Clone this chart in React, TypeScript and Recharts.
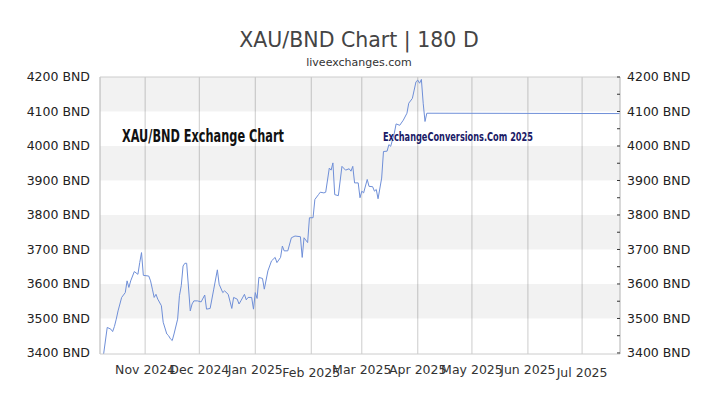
import {
  LineChart,
  Line,
  XAxis,
  YAxis,
  CartesianGrid,
  ReferenceArea,
  ReferenceLine,
} from 'recharts'

// reading of the XAU/BND rate, one point per sampled day
const DATES = [
  '2024-10-09', '2024-10-11', '2024-10-13', '2024-10-14', '2024-10-15', '2024-10-16',
  '2024-10-17', '2024-10-19', '2024-10-21', '2024-10-22', '2024-10-23', '2024-10-24',
  '2024-10-26', '2024-10-28', '2024-10-29', '2024-10-30', '2024-10-31', '2024-11-03',
  '2024-11-04', '2024-11-05', '2024-11-06', '2024-11-07', '2024-11-08', '2024-11-10',
  '2024-11-11', '2024-11-13', '2024-11-14', '2024-11-15', '2024-11-16', '2024-11-17',
  '2024-11-19', '2024-11-20', '2024-11-21', '2024-11-22', '2024-11-23', '2024-11-24',
  '2024-11-26', '2024-11-27', '2024-11-28', '2024-11-30', '2024-12-02', '2024-12-04',
  '2024-12-05', '2024-12-07', '2024-12-09', '2024-12-11', '2024-12-12', '2024-12-14',
  '2024-12-15', '2024-12-17', '2024-12-19', '2024-12-20', '2024-12-22', '2024-12-23',
  '2024-12-24', '2024-12-26', '2024-12-27', '2024-12-28', '2024-12-30', '2024-12-31',
  '2025-01-01', '2025-01-02', '2025-01-03', '2025-01-05', '2025-01-06', '2025-01-08',
  '2025-01-10', '2025-01-12', '2025-01-13', '2025-01-15', '2025-01-16', '2025-01-17',
  '2025-01-19', '2025-01-21', '2025-01-23', '2025-01-26', '2025-01-27', '2025-01-28',
  '2025-01-30', '2025-01-31', '2025-02-02', '2025-02-03', '2025-02-05', '2025-02-06',
  '2025-02-08', '2025-02-09', '2025-02-11', '2025-02-12', '2025-02-13', '2025-02-14',
  '2025-02-16', '2025-02-18', '2025-02-20', '2025-02-22', '2025-02-23', '2025-02-24',
  '2025-02-25', '2025-02-27', '2025-02-28', '2025-03-01', '2025-03-02', '2025-03-04',
  '2025-03-05', '2025-03-07', '2025-03-08', '2025-03-09', '2025-03-10', '2025-03-12',
  '2025-03-13', '2025-03-15', '2025-03-16', '2025-03-17', '2025-03-19', '2025-03-20',
  '2025-03-22', '2025-03-24', '2025-03-26', '2025-03-27', '2025-03-29', '2025-03-30',
  '2025-03-31', '2025-04-01', '2025-04-02', '2025-04-03', '2025-04-04', '2025-04-05',
  '2025-04-06', '2025-07-22',
]

const RATES = [
  3397, 3474, 3469, 3462, 3477, 3498,
  3522, 3561, 3575, 3609, 3590, 3609,
  3636, 3628, 3662, 3691, 3625, 3623,
  3609, 3585, 3561, 3570, 3556, 3537,
  3489, 3455, 3450, 3441, 3436, 3455,
  3498, 3566, 3595, 3652, 3660, 3660,
  3522, 3542, 3551, 3551, 3548, 3568,
  3527, 3529, 3585, 3641, 3599, 3575,
  3580, 3570, 3529, 3561, 3556, 3542,
  3551, 3570, 3554, 3561, 3561, 3527,
  3575, 3558, 3619, 3616, 3585, 3638,
  3667, 3677, 3662, 3677, 3710, 3696,
  3696, 3734, 3739, 3737, 3677, 3734,
  3720, 3792, 3792, 3845, 3859, 3866,
  3864, 3866, 3936, 3930, 3951, 3859,
  3856, 3941, 3930, 3934, 3927, 3941,
  3893, 3893, 3850, 3869, 3864, 3903,
  3883, 3882, 3869, 3874, 3847, 3907,
  3984, 3985, 4004, 3999, 4037, 4064,
  4060, 4075, 4095, 4124, 4138, 4162,
  4186, 4191, 4182, 4193, 4124, 4071,
  4095, 4094,
]

const RANGE_START = '2024-10-07'
const RANGE_END = '2025-07-22'

const MONTH_STARTS = [
  '2024-11-01', '2024-12-01', '2025-01-01', '2025-02-01', '2025-03-01',
  '2025-04-01', '2025-05-01', '2025-06-01', '2025-07-01',
]
const MONTH_LABELS = [
  'Nov 2024', 'Dec 2024', 'Jan 2025', 'Feb 2025', 'Mar 2025',
  'Apr 2025', 'May 2025', 'Jun 2025', 'Jul 2025',
]

const Y_TICKS = [3400, 3500, 3600, 3700, 3800, 3900, 4000, 4100, 4200]
const Y_MINOR_TICKS = [
  3400, 3450, 3500, 3550, 3600, 3650, 3700, 3750, 3800, 3850,
  3900, 3950, 4000, 4050, 4100, 4150, 4200,
]
// shaded horizontal bands [from, to]
const BANDS = [
  [3500, 3600],
  [3700, 3800],
  [3900, 4000],
  [4100, 4200],
]

const DAY = 86400000
const dayOf = (iso: string) =>
  Math.round((Date.parse(iso + 'T00:00:00Z') - Date.parse(RANGE_START + 'T00:00:00Z')) / DAY)

const data = DATES.map((d, i) => ({ day: dayOf(d), rate: RATES[i] }))
const xTicks = MONTH_STARTS.map(dayOf)
const labelOf = new Map(xTicks.map((t, i) => [t, MONTH_LABELS[i]]))

const FONT = '"DejaVu Sans", Verdana, sans-serif'
const GRID = '#cccccc'

function MonthTick({ x, y, payload, index }: any) {
  const low = index === 3 || index === 8
  return (
    <text
      x={x}
      y={y + (low ? 3 : 0)}
      dy="0.71em"
      textAnchor="middle"
      fill="#333"
      fontSize={12.5}
      fontFamily={FONT}
    >
      {labelOf.get(payload.value)}
    </text>
  )
}

function RightTick({ x, y, payload }: any) {
  return (
    <text x={x} y={y} dy="0.355em" textAnchor="start" fill="#222" fontSize={12.5} fontFamily={FONT}>
      {`${payload.value} BND`}
    </text>
  )
}

export default function App() {
  return (
    <div style={{ position: 'absolute', left: 0, top: 0, width: 720, height: 405, background: '#fff' }}>
      <LineChart
        width={720}
        height={405}
        data={data}
        margin={{ top: 77, right: 20, bottom: 21, left: 20 }}
      >
        {BANDS.map(([a, b]) => (
          <ReferenceArea
            key={a}
            yAxisId="left"
            y1={a}
            y2={b}
            fill="#000"
            fillOpacity={0.05}
            stroke="none"
            ifOverflow="hidden"
          />
        ))}
        <CartesianGrid horizontal={false} stroke={GRID} yAxisId="left" />
        <XAxis
          type="number"
          dataKey="day"
          domain={[0, dayOf(RANGE_END)]}
          ticks={xTicks}
          interval={0}
          height={30}
          tickSize={0}
          tickMargin={11}
          tickLine={false}
          axisLine={{ stroke: GRID }}
          tick={<MonthTick />}
        />
        <YAxis
          yAxisId="left"
          domain={[3400, 4200]}
          ticks={Y_TICKS}
          interval={0}
          width={80}
          tickSize={0}
          tickMargin={10}
          tickLine={false}
          axisLine={{ stroke: GRID }}
          tickFormatter={(v) => `${v} BND`}
          tick={{ fill: '#222', fontSize: 12.5, fontFamily: FONT }}
        />
        <YAxis
          yAxisId="right"
          orientation="right"
          domain={[3400, 4200]}
          ticks={Y_TICKS}
          interval={0}
          width={80}
          tickSize={0}
          tickMargin={7}
          tickLine={false}
          axisLine={{ stroke: GRID }}
          tick={<RightTick />}
        />
        <YAxis
          yAxisId="minor"
          orientation="right"
          mirror
          domain={[3400, 4200]}
          ticks={Y_MINOR_TICKS}
          interval={0}
          width={10}
          tickSize={3}
          axisLine={false}
          tickLine={{ stroke: '#333' }}
          tick={() => <g />}
        />
        <ReferenceLine yAxisId="left" y={4200} stroke={GRID} />
        <Line
          yAxisId="right"
          dataKey="rate"
          stroke="none"
          dot={false}
          activeDot={false}
          isAnimationActive={false}
        />
        <Line
          yAxisId="minor"
          dataKey="rate"
          stroke="none"
          dot={false}
          activeDot={false}
          isAnimationActive={false}
        />
        <Line
          yAxisId="left"
          type="linear"
          dataKey="rate"
          stroke="#6f8fd8"
          strokeWidth={1}
          dot={false}
          isAnimationActive={false}
        />
      </LineChart>
      <svg
        width={720}
        height={405}
        style={{ position: 'absolute', left: 0, top: 0, pointerEvents: 'none' }}
      >
        <text x={359} y={47} textAnchor="middle" fontSize={20.5} fill="#444" fontFamily={FONT}>
          XAU/BND Chart | 180 D
        </text>
        <text x={359} y={66} textAnchor="middle" fontSize={11} fill="#333" fontFamily={FONT}>
          liveexchanges.com
        </text>
        <text
          x={122}
          y={142}
          fontSize={18}
          fontWeight="bold"
          fill="#111"
          fontFamily='"Liberation Sans Narrow", "DejaVu Sans Condensed", sans-serif'
          textLength={162}
          lengthAdjust="spacingAndGlyphs"
        >
          XAU/BND Exchange Chart
        </text>
        <text
          x={383}
          y={141}
          fontSize={13}
          fontWeight="bold"
          fill="#1a1a66"
          fontFamily='"Liberation Sans Narrow", "DejaVu Sans Condensed", sans-serif'
          textLength={150}
          lengthAdjust="spacingAndGlyphs"
        >
          ExchangeConversions.Com 2025
        </text>
      </svg>
    </div>
  )
}
